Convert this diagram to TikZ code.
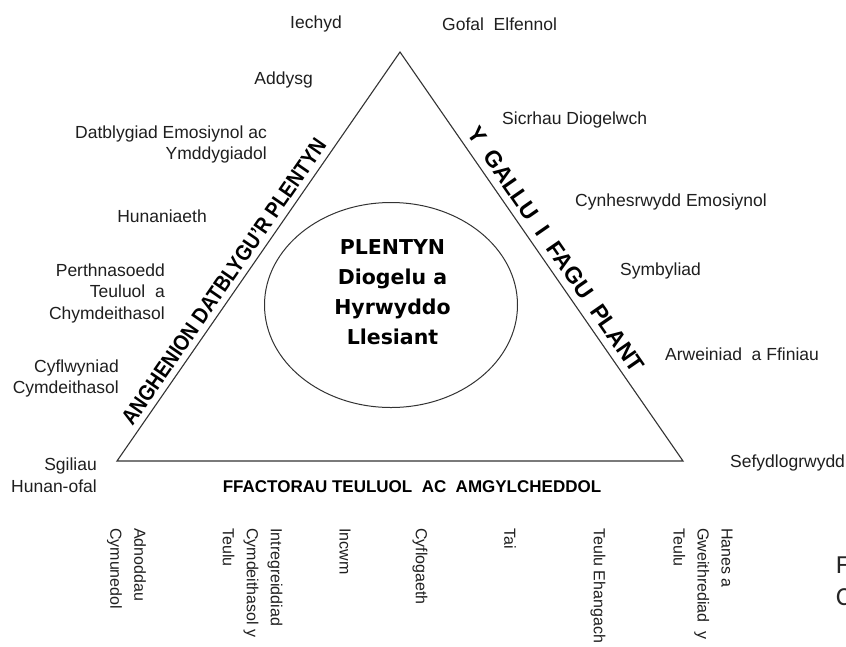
\documentclass[tikz,border=0pt]{standalone}
\usepackage{fontspec}
\setmainfont{Liberation Sans}
\newfontfamily\centerfont{DejaVu Sans}
\newfontfamily\calfont{Carlito}
\begin{document}
\begin{tikzpicture}[x=1pt,y=-1pt,
  lbl/.style={inner sep=0pt, font=\fontsize{17.5}{21.5}\selectfont, text=black!88},
  lblr/.style={lbl, align=right, anchor=east},
  lbll/.style={lbl, align=left, anchor=west},
  vlbl/.style={inner sep=0pt, font=\fontsize{16}{24}\selectfont, text=black!88, rotate=-90, anchor=west, align=left},
  sidetext/.style={inner sep=0pt, anchor=base},
  edgeline/.style={line width=1.1pt, draw=black!80}]
\useasboundingbox (0,0) rectangle (846,646);
\fill[white] (0,0) rectangle (846,646);

% triangle
\coordinate (A) at (400,52);
\coordinate (B) at (117,461);
\coordinate (C) at (683,461);
\draw[edgeline, line join=miter] (A) -- (B) -- (C) -- cycle;

% centre ellipse
\draw[draw=black!80, line width=1pt] (391,305) ellipse [x radius=126.5, y radius=102.5];
\node[inner sep=0pt, align=center, font=\centerfont\bfseries\fontsize{20.5}{30}\selectfont] (child) at (392.5,292)
  {PLENTYN\\Diogelu a\\Hyrwyddo\\Llesiant};

% side titles
\node[sidetext, rotate=55.3, font=\bfseries\fontsize{22}{24}\selectfont] (needs) at (230,286)
  {\scalebox{0.877}[1]{ANGHENION DATBLYGU'R PLENTYN}};
\node[sidetext, rotate=-55.3, font=\bfseries\fontsize{23}{26}\selectfont] (capacity) at (549.5,254)
  {Y\ \ GALLU\ \ I\ \ FAGU\ \ PLANT};
\node[inner sep=0pt, font=\bfseries\fontsize{17}{20}\selectfont] (family) at (412,487)
  {FFACTORAU TEULUOL\ \ AC\ \ AMGYLCHEDDOL};

% left labels
\node[lbl] (iechyd) at (316,24) {Iechyd};
\node[lblr] (addysg) at (313,80) {Addysg};
\node[lblr] (datblygiad) at (267,144.5) {Datblygiad Emosiynol ac\\Ymddygiadol};
\node[lblr] (hunaniaeth) at (207,216) {Hunaniaeth};
\node[lblr] (perthnasoedd) at (165,293) {Perthnasoedd\\Teuluol\ \ a\\Chymdeithasol};
\node[lblr] (cyflwyniad) at (119,378.5) {Cyflwyniad\\Cymdeithasol};
\node[lblr] (sgiliau) at (97,475) {Sgiliau\\Hunan-ofal};

% right labels
\node[lbll] (gofal) at (442,24) {Gofal\ \ Elfennol};
\node[lbll] (sicrhau) at (502,120) {Sicrhau Diogelwch};
\node[lbll] (cynhesrwydd) at (575,202) {Cynhesrwydd Emosiynol};
\node[lbll] (symbyliad) at (620,271) {Symbyliad};
\node[lbll] (arweiniad) at (665,354) {Arweiniad\ \ a Ffiniau};
\node[lbll] (sefydlog) at (730,463) {Sefydlogrwydd};

% bottom vertical labels
\node[vlbl] (adnoddau) at (126.5,528) {Adnoddau\\Cymunedol};
\node[vlbl] (integr) at (252.5,528) {Intregreiddiad\\Cymdeithasol y\\Teulu};
\node[vlbl] (incwm) at (345,528) {Incwm};
\node[vlbl] (cyflog) at (420,528) {Cyflogaeth};
\node[vlbl] (tai) at (510,528) {Tai};
\node[vlbl] (ehangach) at (598,528) {Teulu Ehangach};
\node[vlbl] (hanes) at (703,528) {Hanes a\\Gweithrediad\ \ y\\Teulu};

% clipped text at right edge
\node[inner sep=0pt, anchor=west, align=left, text=black!85, font=\calfont\fontsize{26}{32}\selectfont] (cut) at (836,581) {F\\C};
\end{tikzpicture}
\end{document}
